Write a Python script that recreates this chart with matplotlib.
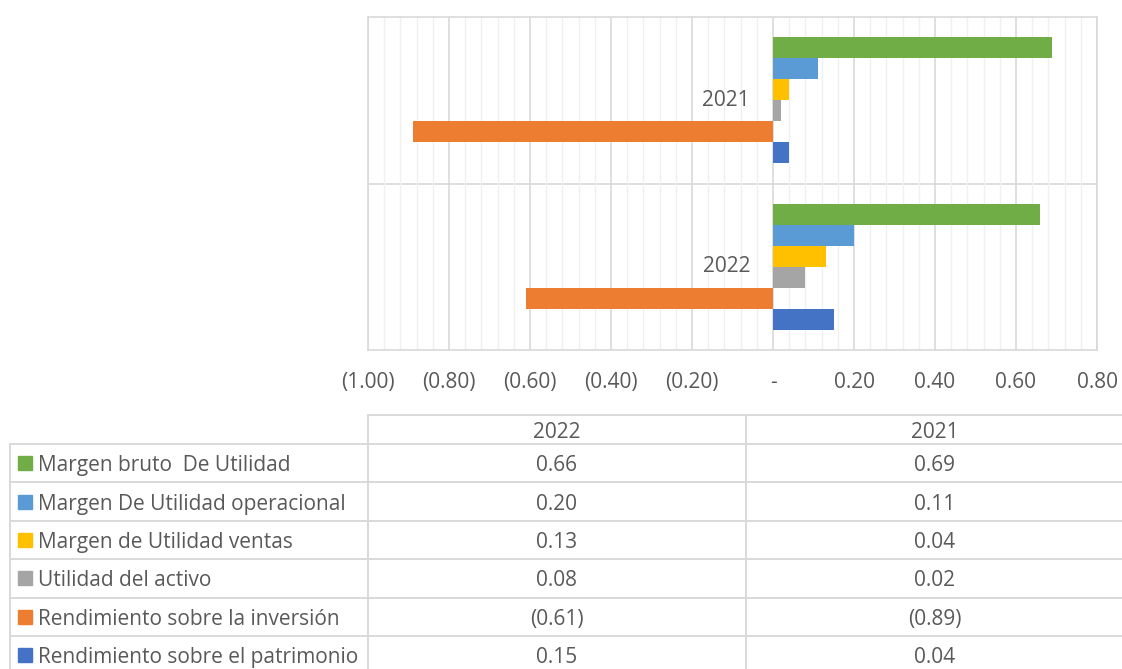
import numpy as np
import matplotlib.pyplot as plt
from matplotlib.ticker import FuncFormatter, MultipleLocator

plt.rcParams['font.family'] = ['Open Sans', 'DejaVu Sans']

years = ["2022", "2021"]
series = ["Margen bruto  De Utilidad", "Margen De Utilidad operacional",
          "Margen de Utilidad ventas", "Utilidad del activo",
          "Rendimiento sobre la inversión", "Rendimiento sobre el patrimonio"]
colors = ["#70AD47", "#5B9BD5", "#FFC000", "#A5A5A5", "#ED7D31", "#4472C4"]
v2022 = [0.66, 0.20, 0.13, 0.08, -0.61, 0.15]
v2021 = [0.69, 0.11, 0.04, 0.02, -0.89, 0.04]

text_c = "#595959"
grid_c = "#d9d9d9"
fs = 15


def fmt_num(v):
    if abs(v) < 1e-9:
        return "-"
    if v < 0:
        return f"({abs(v):.2f})"
    return f"{v:.2f}"


W, H = 1122, 669
fig = plt.figure(figsize=(W / 100, H / 100), dpi=100)
ax = fig.add_axes([368 / W, 1 - 350 / H, (1097 - 368) / W, (350 - 17) / H])

vals = np.array([v2022, v2021])
h = 0.126
y = np.arange(len(years))
for i, name in enumerate(series):
    ax.barh(y + (2.5 - i) * h, vals[:, i], height=h, color=colors[i], zorder=3)

ax.set_xlim(-1.0, 0.8)
ax.set_ylim(-0.5, 1.5)
ax.xaxis.set_major_locator(MultipleLocator(0.2))
ax.xaxis.set_minor_locator(MultipleLocator(0.04))
ax.xaxis.set_major_formatter(FuncFormatter(lambda v, p: fmt_num(v)))
ax.grid(axis="x", which="major", color=grid_c, lw=1.2, zorder=1)
ax.grid(axis="x", which="minor", color="#f0f0f0", lw=1.0, zorder=0)
ax.axhline(0.5, color=grid_c, lw=1.2, zorder=1)
ax.set_yticks([])
ax.tick_params(axis="x", which="both", length=0, pad=16, labelsize=fs, labelcolor=text_c)
for s in ax.spines.values():
    s.set_color(grid_c)
    s.set_linewidth(1.2)

for i, yr in enumerate(years):
    ax.annotate(yr, (0, i), xytext=(-23, 0), textcoords="offset pixels",
                ha="right", va="center", fontsize=fs, color=text_c, zorder=4)

# data table below the chart, drawn in pixel coordinates
tb = fig.add_axes([0, 0, 1, 1])
tb.set_xlim(0, W)
tb.set_ylim(H, 0)
tb.axis("off")

x_left, x_c1, x_c2, x_right = 10, 368, 746, 1124
y_head, y_rows, row_h = 415, 444, 38.4
lw = 1.4

tb.plot([x_c1, x_right], [y_head, y_head], color=grid_c, lw=lw)
for k in range(len(series) + 1):
    yy = y_rows + k * row_h
    tb.plot([x_left, x_right], [yy, yy], color=grid_c, lw=lw)
tb.plot([x_left, x_left], [y_rows, y_rows + len(series) * row_h], color=grid_c, lw=lw)
for xx in (x_c1, x_c2, x_right):
    tb.plot([xx, xx], [y_head, y_rows + len(series) * row_h], color=grid_c, lw=lw)

col_x = [(x_c1 + x_c2) / 2, (x_c2 + x_right) / 2]
col_vals = [v2022, v2021]
for j, yr in enumerate(years):
    tb.text(col_x[j], (y_head + y_rows) / 2, yr, ha="center", va="center_baseline",
            fontsize=fs, color=text_c)

for i, name in enumerate(series):
    yc = y_rows + (i + 0.5) * row_h
    tb.add_patch(plt.Rectangle((18, yc - 7), 14, 14, color=colors[i]))
    tb.text(38, yc, name, ha="left", va="center_baseline", fontsize=fs, color=text_c)
    for j in range(len(years)):
        tb.text(col_x[j], yc, fmt_num(col_vals[j][i]), ha="center", va="center_baseline",
                fontsize=fs, color=text_c)

fig.savefig("out.png", dpi=100)
